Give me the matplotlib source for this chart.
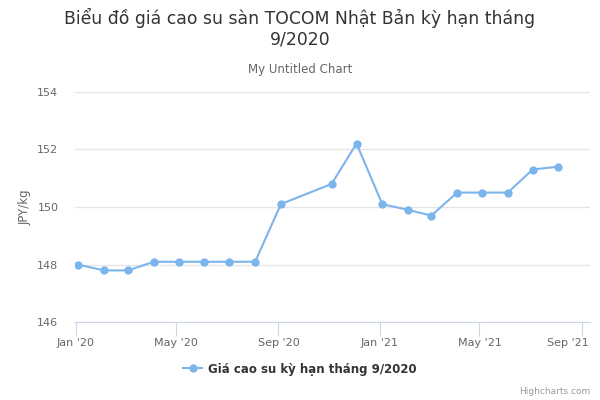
import matplotlib
matplotlib.use("Agg")
import matplotlib.pyplot as plt
import matplotlib.dates as mdates
import matplotlib.transforms as mtransforms
from matplotlib.lines import Line2D
import pandas as pd

# data (roughly the 4th of each month, no Oct 2020 point)
dates = ["2020-01-04", "2020-02-04", "2020-03-04", "2020-04-04", "2020-05-04",
         "2020-06-04", "2020-07-04", "2020-08-04", "2020-09-04", "2020-11-04",
         "2020-12-04", "2021-01-04", "2021-02-04", "2021-03-04", "2021-04-04",
         "2021-05-04", "2021-06-04", "2021-07-04", "2021-08-04"]
prices = [148.0, 147.8, 147.8, 148.1, 148.1, 148.1, 148.1, 148.1, 150.1, 150.8,
          152.2, 150.1, 149.9, 149.7, 150.5, 150.5, 150.5, 151.3, 151.4]
series_name = "Giá cao su kỳ hạn tháng 9/2020"
yticks = [146, 148, 150, 152, 154]

plt.rcParams['font.family'] = ['DejaVu Sans']
x = pd.to_datetime(dates)

fig = plt.figure(figsize=(6, 4), dpi=100)
ax = fig.add_axes([75 / 600, 1 - 322.3 / 400, 515 / 600, (322.3 - 91.7) / 400])

ax.plot(x, prices, color="#7cb5ec", lw=1.5, marker="o", markersize=6,
        markeredgewidth=0, zorder=3)

ax.set_ylim(146, 154)
ax.set_yticks(yticks)
ax.set_xlim(pd.Timestamp("2019-12-31 04:00"), pd.Timestamp("2021-09-11"))
ax.xaxis.set_major_locator(mdates.MonthLocator(bymonth=[1, 5, 9]))
ax.xaxis.set_major_formatter(mdates.DateFormatter("%b '%y"))

ax.grid(axis="y", color="#e6e6e6", lw=1)
ax.set_axisbelow(True)
for s in ["top", "right", "left"]:
    ax.spines[s].set_visible(False)
ax.spines["bottom"].set_color("#ccd6eb")
ax.tick_params(axis="y", length=0, labelsize=8, labelcolor="#666666", pad=12)
ax.tick_params(axis="x", length=10, color="#ccd6eb", labelsize=8,
               labelcolor="#666666", pad=1)
ax.set_ylabel("JPY/kg", fontsize=8.5, color="#666666", labelpad=4)

# keep the last x label inside the chart, like Highcharts does
fig.canvas.draw()
last = ax.get_xticklabels()[-1]
last.set_horizontalalignment("right")
last.set_transform(mtransforms.offset_copy(last.get_transform(), fig=fig, x=7, units="dots"))

fig.text(0.5, 1 - 18 / 400, "Biểu đồ giá cao su sàn TOCOM Nhật Bản kỳ hạn tháng",
         ha="center", va="center", fontsize=12.4, color="#333333")
fig.text(0.5, 1 - 40 / 400, "9/2020", ha="center", va="center",
         fontsize=12.4, color="#333333")
fig.text(0.5, 1 - 69 / 400, "My Untitled Chart", ha="center", va="center",
         fontsize=8.5, color="#666666")

handle = Line2D([], [], color="#7cb5ec", lw=1.5, marker="o", markersize=6,
                markeredgewidth=0)
fig.legend([handle], [series_name], loc="center", bbox_to_anchor=(0.5, 1 - 369 / 400),
           frameon=False, prop={"weight": "bold", "size": 8.5}, labelcolor="#333333",
           handlelength=1.6, handletextpad=0.5)

fig.text(590 / 600, 1 - 392 / 400, "Highcharts.com", ha="right", va="center",
         fontsize=6.5, color="#999999")

fig.savefig("out.png", dpi=100)
